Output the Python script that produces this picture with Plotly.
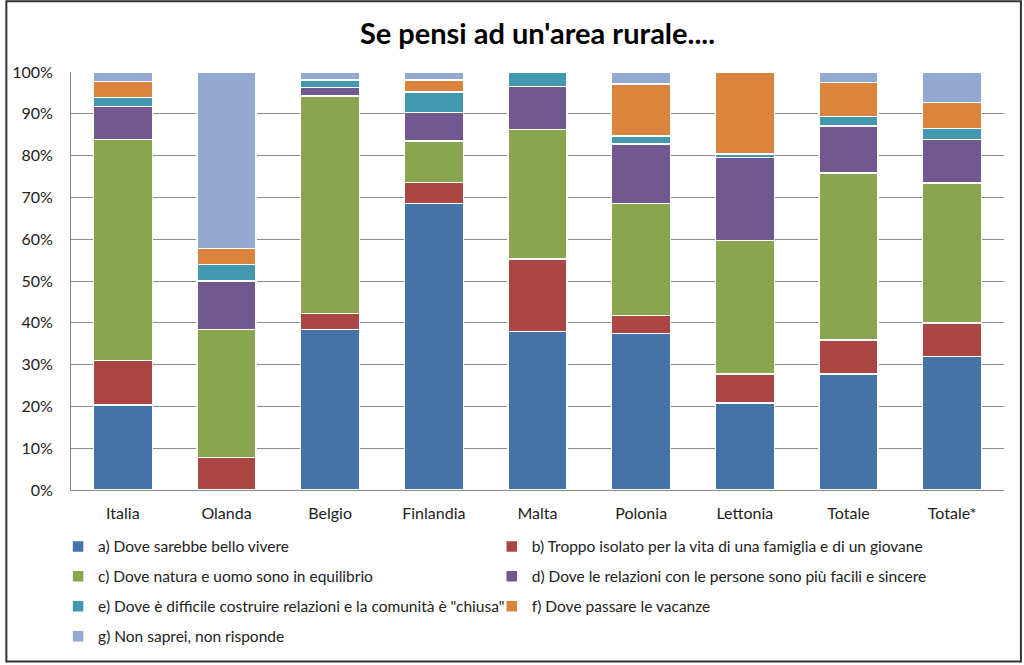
import plotly.graph_objects as go

categories = ["Italia", "Olanda", "Belgio", "Finlandia", "Malta", "Polonia", "Lettonia", "Totale", "Totale*"]

series_names = [
    "a) Dove sarebbe bello vivere",
    "b) Troppo isolato per la vita di una famiglia e di un giovane",
    "c) Dove natura e uomo sono in equilibrio",
    "d) Dove le relazioni con le persone sono più facili e sincere",
    "e) Dove è difficile costruire relazioni e la comunità è \"chiusa\"",
    "f) Dove passare le vacanze",
    "g) Non saprei, non risponde",
]

a_vals = [20.3, 0.0, 38.4, 68.5, 37.9, 37.5, 20.8, 27.7, 31.9]
b_vals = [10.7, 7.8, 3.8, 5.1, 17.4, 4.3, 7.0, 8.2, 8.0]
c_vals = [52.8, 30.6, 52.1, 9.9, 31.0, 26.7, 31.9, 39.9, 33.5]
d_vals = [7.9, 11.6, 2.0, 6.8, 10.2, 14.3, 19.8, 11.3, 10.4]
e_vals = [2.2, 3.9, 1.8, 4.9, 3.5, 1.9, 0.9, 2.2, 2.7]
f_vals = [3.8, 3.9, 0.0, 2.9, 0.0, 12.4, 19.6, 8.2, 6.2]
g_vals = [2.3, 42.2, 1.9, 1.9, 0.0, 2.9, 0.0, 2.5, 7.3]

series_values = [a_vals, b_vals, c_vals, d_vals, e_vals, f_vals, g_vals]
colors = ["#4572A7", "#AA4643", "#89A54E", "#71588F", "#4198AF", "#DB843D", "#93A9CF"]

FONT = "Lato, Calibri, Carlito, sans-serif"

# plot area geometry (pixels)
W, H = 1024, 665
L, R, T, B = 66, 20, 72, 174
PW = W - L - R
PH = H - T - B

def px_x(x):
    return (x - L) / PW

def px_y(y):
    return (H - B - y) / PH

legend_ids = ["legend", "legend2", "legend3", "legend4", "legend5", "legend6", "legend7"]
# legend grid: (left pixel of legend box, row centre pixel)
col_x = [53, 489]
row_y = [548, 578, 608, 638]
legend_pos = [(col_x[i % 2], row_y[i // 2]) for i in range(7)]

fig = go.Figure()
for name, vals, col, lg in zip(series_names, series_values, colors, legend_ids):
    fig.add_trace(go.Bar(
        x=categories, y=vals, name=name,
        marker=dict(color=col, line=dict(color="white", width=1.5)),
        legend=lg, showlegend=True,
    ))

legends = {}
for lg, (lx, ly) in zip(legend_ids, legend_pos):
    legends[lg] = dict(
        orientation="h", xanchor="left", yanchor="middle",
        x=px_x(lx), y=px_y(ly),
        font=dict(family=FONT, size=15.5, color="#222"),
        bgcolor="rgba(255,255,255,0)", borderwidth=0,
        visible=True,
    )

fig.update_layout(
    width=W, height=H,
    margin=dict(l=L, r=R, t=T, b=B),
    paper_bgcolor="white", plot_bgcolor="white",
    showlegend=True,
    barmode="stack", bargap=0.43,
    title=dict(text="<b>Se pensi ad un'area rurale....</b>", x=0.5, xref="paper",
               xanchor="center", y=1 - 34 / H, yanchor="middle",
               font=dict(family=FONT, size=29, color="black")),
    xaxis=dict(showline=True, linecolor="#888", linewidth=1,
               tickfont=dict(family=FONT, size=16, color="#222"),
               showgrid=False, ticks="", ticklabelstandoff=9),
    yaxis=dict(range=[0, 100], dtick=10, ticksuffix="%",
               showline=True, linecolor="#888", linewidth=1,
               showgrid=True, gridcolor="#8c8c8c", gridwidth=1,
               tickfont=dict(family=FONT, size=16, color="#222"),
               ticks="", zeroline=False, ticklabelstandoff=14),
    shapes=[dict(type="rect", xref="paper", yref="paper",
                 x0=px_x(1), x1=px_x(1021), y0=px_y(663), y1=px_y(1),
                 line=dict(color="#333", width=2), fillcolor="rgba(0,0,0,0)",
                 layer="above")],
    **legends,
)

fig.write_html("out.html", config={"displayModeBar": False},
               post_script="document.body.style.margin='0px';")
